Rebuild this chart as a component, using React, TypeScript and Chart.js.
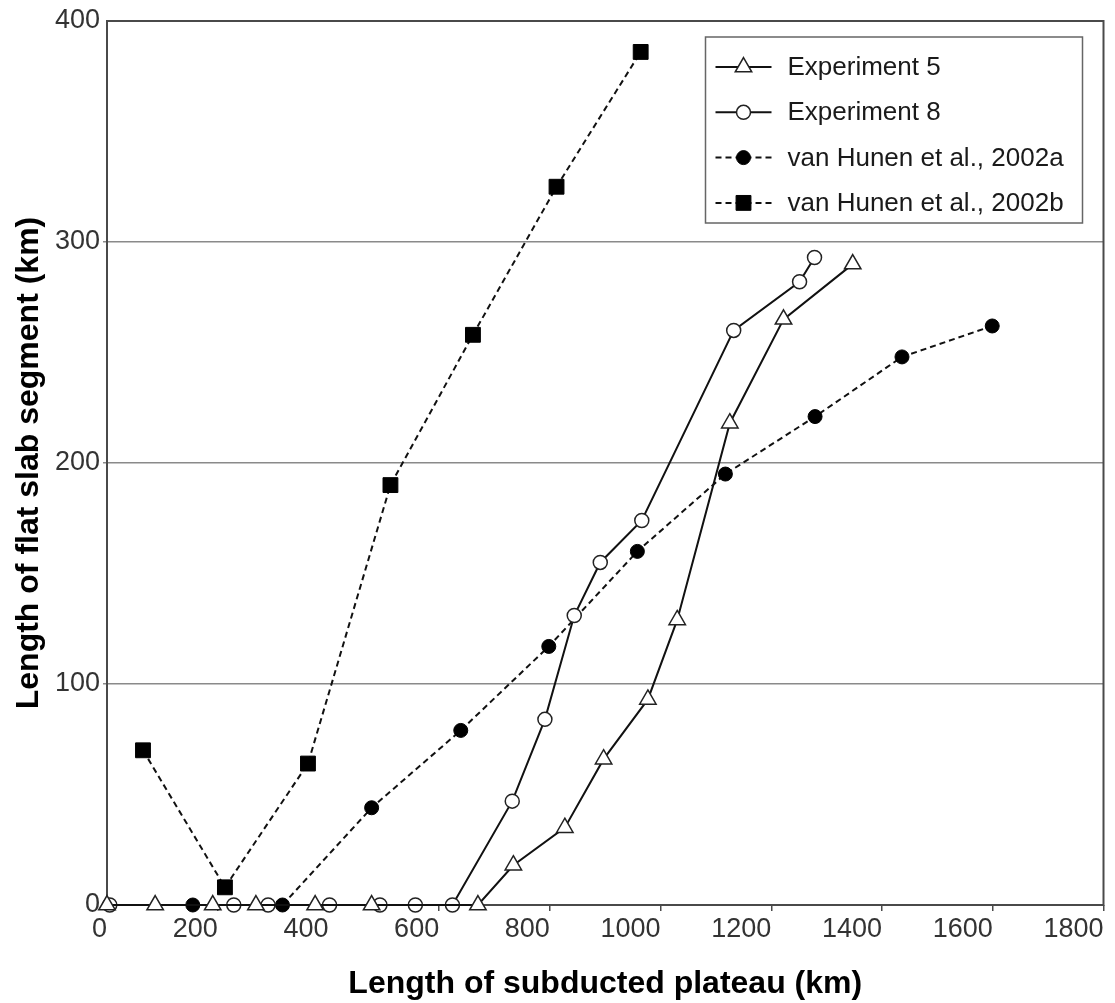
import React, { useEffect, useRef } from "react";
import { Chart, registerables } from "chart.js";

Chart.register(...registerables);

// ---- data ----
const exp5X = [0, 87, 191, 269, 376, 478, 670, 734, 827, 897, 977, 1030, 1125, 1222, 1347];
const exp5Y = [0, 0, 0, 0, 0, 0, 0, 18, 35, 66, 93, 129, 218, 265, 290];

const exp8X = [5, 229, 291, 402, 493, 557, 624, 732, 791, 844, 891, 966, 1132, 1251, 1278];
const exp8Y = [0, 0, 0, 0, 0, 0, 0, 47, 84, 131, 155, 174, 260, 282, 293];

const vh2002aX = [155, 317, 478, 639, 798, 958, 1117, 1279, 1436, 1599];
const vh2002aY = [0, 0, 44, 79, 117, 160, 195, 221, 248, 262];

const vh2002bX = [65, 213, 363, 512, 661, 812, 964];
const vh2002bY = [70, 8, 64, 190, 258, 325, 386];

const seriesNames = [
  "Experiment 5",
  "Experiment 8",
  "van Hunen et al., 2002a",
  "van Hunen et al., 2002b",
];

const xTickValues = [0, 200, 400, 600, 800, 1000, 1200, 1400, 1600, 1800];
const yTickValues = [0, 100, 200, 300, 400];

const xTitle = "Length of subducted plateau (km)";
const yTitle = "Length of flat slab segment (km)";

const FONT = "'Liberation Sans', Arial, Helvetica, sans-serif";

const toPoints = (xs: number[], ys: number[]) => xs.map((x, i) => ({ x, y: ys[i] }));

function drawMarker(ctx: CanvasRenderingContext2D, style: string, x: number, y: number, r: number, fill: string, stroke: string, lw: number) {
  ctx.save();
  ctx.setLineDash([]);
  ctx.beginPath();
  if (style === "triangle") {
    let rad = 0;
    ctx.moveTo(x + Math.sin(rad) * r, y - Math.cos(rad) * r);
    rad += (2 * Math.PI) / 3;
    ctx.lineTo(x + Math.sin(rad) * r, y - Math.cos(rad) * r);
    rad += (2 * Math.PI) / 3;
    ctx.lineTo(x + Math.sin(rad) * r, y - Math.cos(rad) * r);
    ctx.closePath();
  } else if (style === "rect") {
    const s = r * Math.SQRT1_2;
    ctx.rect(x - s, y - s, 2 * s, 2 * s);
  } else {
    ctx.arc(x, y, r, 0, Math.PI * 2);
  }
  ctx.fillStyle = fill;
  ctx.fill();
  ctx.lineWidth = lw;
  ctx.strokeStyle = stroke;
  ctx.stroke();
  ctx.restore();
}

const framePlugin = {
  id: "frame",
  beforeDatasetsDraw(chart: any) {
    const { ctx, chartArea } = chart;
    ctx.save();
    ctx.strokeStyle = "#4a4a4a";
    ctx.lineWidth = 2;
    ctx.strokeRect(chartArea.left, chartArea.top, chartArea.right - chartArea.left, chartArea.bottom - chartArea.top);
    ctx.restore();
  },
};

const legendPlugin = {
  id: "boxLegend",
  afterDraw(chart: any) {
    const { ctx, chartArea } = chart;
    const boxW = 377;
    const boxH = 186;
    const boxR = chartArea.right - 21;
    const boxL = boxR - boxW;
    const boxT = chartArea.top + 16;
    ctx.save();
    ctx.fillStyle = "#ffffff";
    ctx.fillRect(boxL, boxT, boxW, boxH);
    ctx.strokeStyle = "#666666";
    ctx.lineWidth = 1.5;
    ctx.strokeRect(boxL, boxT, boxW, boxH);
    chart.data.datasets.forEach((ds: any, i: number) => {
      const y = boxT + 30 + i * 45.3;
      ctx.save();
      ctx.strokeStyle = ds.borderColor;
      ctx.lineWidth = ds.borderWidth;
      ctx.setLineDash(ds.borderDash || []);
      ctx.beginPath();
      ctx.moveTo(boxL + 10, y);
      ctx.lineTo(boxL + 66, y);
      ctx.stroke();
      ctx.restore();
      drawMarker(ctx, ds.pointStyle, boxL + 38, y, ds.pointRadius, ds.pointBackgroundColor, ds.pointBorderColor, ds.pointBorderWidth);
      ctx.fillStyle = "#1a1a1a";
      ctx.font = `26px ${FONT}`;
      ctx.textAlign = "left";
      ctx.textBaseline = "middle";
      ctx.fillText(ds.label, boxL + 82, y + 1);
    });
    ctx.restore();
  },
};

export default function App() {
  const ref = useRef<HTMLCanvasElement>(null);

  useEffect(() => {
    if (!ref.current) return;
    const lineColor = "#111111";
    const chart = new Chart(ref.current, {
      type: "line",
      data: {
        datasets: [
          {
            label: seriesNames[0],
            data: toPoints(exp5X, exp5Y),
            borderColor: lineColor,
            borderWidth: 2,
            pointStyle: "triangle",
            pointRadius: 9.5,
            pointBackgroundColor: "#ffffff",
            pointBorderColor: "#222222",
            pointBorderWidth: 1.5,
            clip: false,
          },
          {
            label: seriesNames[1],
            data: toPoints(exp8X, exp8Y),
            borderColor: lineColor,
            borderWidth: 2,
            pointStyle: "circle",
            pointRadius: 7,
            pointBackgroundColor: "#ffffff",
            pointBorderColor: "#222222",
            pointBorderWidth: 1.5,
            clip: false,
          },
          {
            label: seriesNames[2],
            data: toPoints(vh2002aX, vh2002aY),
            borderColor: lineColor,
            borderWidth: 2,
            borderDash: [6, 4],
            pointStyle: "circle",
            pointRadius: 7,
            pointBackgroundColor: "#000000",
            pointBorderColor: "#000000",
            pointBorderWidth: 1,
            clip: false,
          },
          {
            label: seriesNames[3],
            data: toPoints(vh2002bX, vh2002bY),
            borderColor: lineColor,
            borderWidth: 2,
            borderDash: [6, 4],
            pointStyle: "rect",
            pointRadius: 10.5,
            pointBackgroundColor: "#000000",
            pointBorderColor: "#000000",
            pointBorderWidth: 1,
            clip: false,
          },
        ] as any,
      },
      options: {
        responsive: false,
        animation: false,
        layout: { padding: { top: 21, right: 11, bottom: 0, left: 0 } },
        plugins: {
          legend: { display: false },
          tooltip: { enabled: false },
        },
        elements: { line: { tension: 0 } },
        scales: {
          x: {
            type: "linear",
            min: 0,
            max: 1800,
            afterBuildTicks: (s: any) => {
              s.ticks = xTickValues.map((v) => ({ value: v }));
            },
            afterFit: (s: any) => {
              s.height = 98;
            },
            ticks: {
              color: "#333333",
              font: { family: FONT, size: 27 },
              align: "end",
              padding: 2,
              maxRotation: 0,
              autoSkip: false,
              callback: (v: any) => String(v),
            },
            grid: {
              drawOnChartArea: false,
              drawTicks: true,
              tickLength: 6,
              color: "#4a4a4a",
              lineWidth: 1.5,
            },
            border: { display: false },
            title: {
              display: true,
              text: xTitle,
              color: "#000000",
              font: { family: FONT, size: 32, weight: "bold" },
              padding: { top: 0, bottom: 0 },
            },
          },
          y: {
            type: "linear",
            min: 0,
            max: 400,
            afterBuildTicks: (s: any) => {
              s.ticks = yTickValues.map((v) => ({ value: v }));
            },
            afterFit: (s: any) => {
              s.width = 107;
            },
            ticks: {
              color: "#333333",
              font: { family: FONT, size: 27 },
              padding: 3,
              autoSkip: false,
              callback: (v: any) => String(v),
            },
            grid: {
              color: (c: any) => (c.tick && (c.tick.value === 0 || c.tick.value === 400) ? "rgba(0,0,0,0)" : "#8a8a8a"),
              lineWidth: 1.5,
              tickLength: 4,
              drawTicks: true,
            },
            border: { display: false },
            title: {
              display: true,
              text: yTitle,
              color: "#000000",
              font: { family: FONT, size: 32, weight: "bold" },
              padding: { top: 10, bottom: 0 },
            },
          },
        },
      } as any,
      plugins: [framePlugin, legendPlugin],
    });
    return () => chart.destroy();
  }, []);

  return (
    <div style={{ position: "absolute", left: 0, top: 0, width: 1115, height: 1003, background: "#ffffff" }}>
      <canvas ref={ref} width={1115} height={1003} style={{ display: "block" }} />
    </div>
  );
}
